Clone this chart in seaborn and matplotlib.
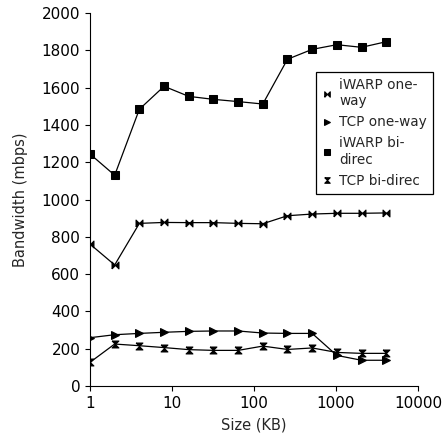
import matplotlib
matplotlib.use("Agg")
import matplotlib.pyplot as plt
import seaborn as sns

sizes_kb = [1, 2, 4, 8, 16, 32, 64, 128, 256, 512, 1024, 2048, 4096]

iwarp_oneway = [761, 649, 872, 877, 876, 876, 872, 870, 913, 922, 926, 926, 928]
tcp_oneway = [259, 275, 282, 288, 293, 295, 295, 284, 282, 282, 164, 138, 138]
iwarp_bidirec = [1244, 1130, 1484, 1607, 1553, 1537, 1525, 1512, 1752, 1805, 1830, 1816, 1846]
tcp_bidirec = [127, 225, 216, 206, 195, 191, 191, 214, 196, 204, 180, 175, 175]

labels = ["iWARP one-\nway", "TCP one-way", "iWARP bi-\ndirec", "TCP bi-direc"]
x_ticks = [1, 10, 100, 1000, 10000]
y_ticks = list(range(0, 2001, 200))

# marker shapes
bowtie = [(-1, -1), (-1, 1), (0, 0), (1, 1), (1, -1), (0, 0), (-1, -1)]
hourglass = [(-1, 1), (1, 1), (0, 0), (1, -1), (-1, -1), (0, 0), (-1, 1)]

sns.set_style("ticks")
plt.rcParams["font.family"] = ["DejaVu Sans"]

fig = plt.figure(figsize=(4.47, 4.37), dpi=100)
ax = fig.add_axes([90 / 447, 1 - 386 / 437, 328 / 447, 373 / 437])

series = [iwarp_oneway, tcp_oneway, iwarp_bidirec, tcp_bidirec]
markers = [bowtie, ">", "s", hourglass]
msizes = [5, 6, 5.5, 5]
for vals, lab, mk, ms in zip(series, labels, markers, msizes):
    sns.lineplot(x=sizes_kb, y=vals, ax=ax, color="black", linewidth=0.9,
                 marker=mk, markersize=ms, markeredgecolor="black",
                 markerfacecolor="black", label=lab)

ax.set_xscale("log")
ax.set_xlim(1, 10000)
ax.set_ylim(0, 2000)
ax.set_xticks(x_ticks)
ax.set_xticklabels([str(t) for t in x_ticks])
ax.xaxis.set_minor_locator(matplotlib.ticker.NullLocator())
ax.set_yticks(y_ticks)
ax.tick_params(labelsize=11, length=3.5, width=0.8, colors="black")
ax.set_xlabel("Size (KB)", fontsize=10.5, labelpad=5)
ax.set_ylabel("Bandwidth (mbps)", fontsize=10.5, labelpad=10)
for s in ["left", "bottom"]:
    ax.spines[s].set_color("black")
    ax.spines[s].set_linewidth(0.8)
sns.despine(ax=ax)

leg = ax.legend(loc="upper left", bbox_to_anchor=(0.689, 0.842), borderaxespad=0,
                fontsize=9.8, frameon=True, fancybox=False, framealpha=1,
                handlelength=0.7, handletextpad=0.55, labelspacing=0.52,
                borderpad=0.45, markerscale=0.8)
leg.get_frame().set_edgecolor("black")
leg.get_frame().set_linewidth(0.9)
for h in leg.legend_handles:
    h.set_linestyle("none")
leg.set_clip_on(False)

fig.savefig("out.png", dpi=100)
